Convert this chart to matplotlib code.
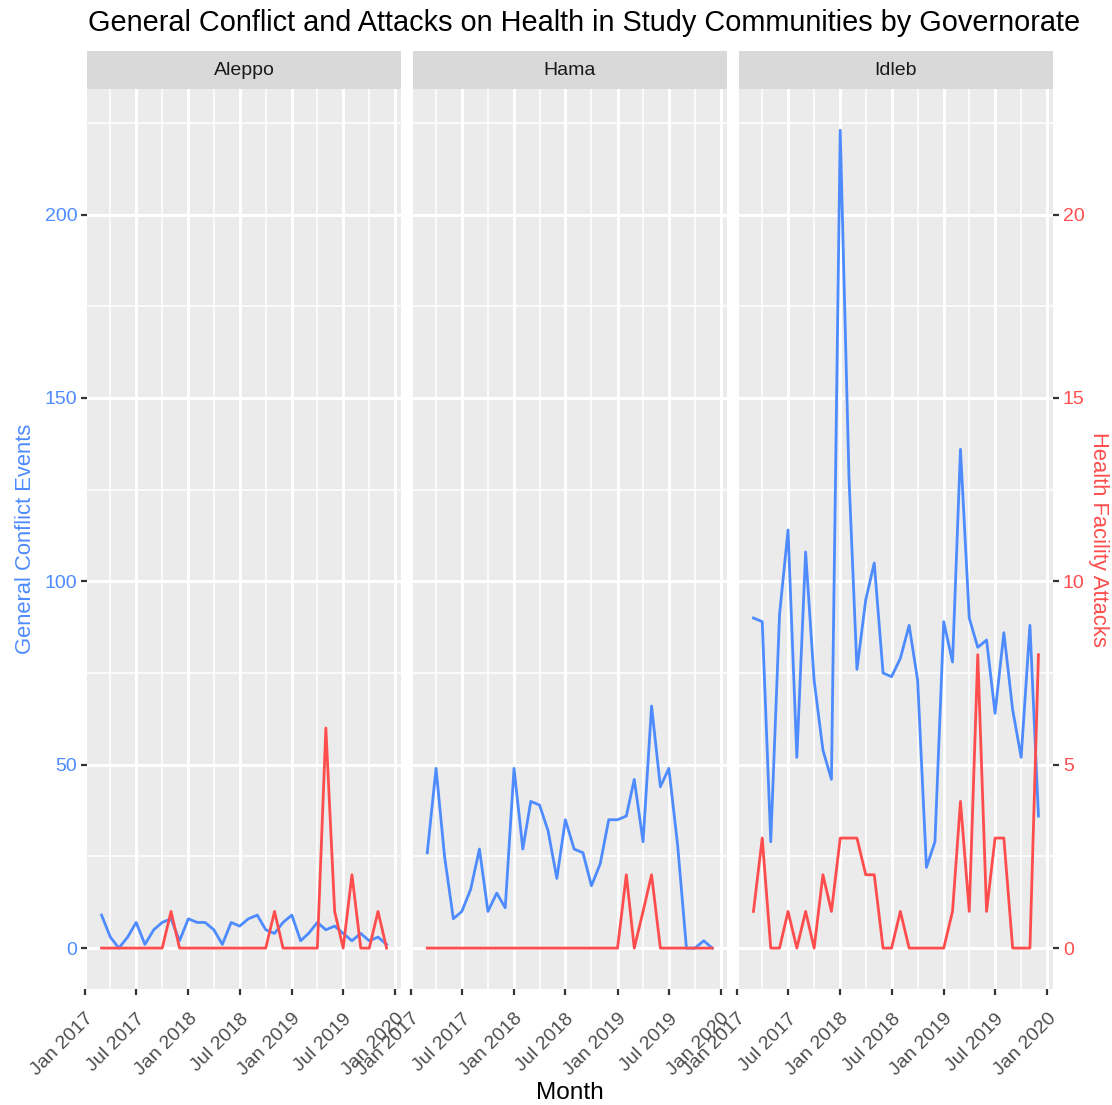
"""
General conflict events vs. attacks on health facilities, one facet per
governorate (Aleppo, Hama, Idleb), monthly Mar 2017 - Dec 2019.

Health facility attacks share the panel with conflict events, scaled x10,
and are read off the secondary (right) axis.

Run:
    python plot.py      # -> out.png
"""
import matplotlib
matplotlib.use("Agg")
import matplotlib.dates as mdates
import matplotlib.pyplot as plt
import matplotlib.transforms as mtransforms
import pandas as pd
from matplotlib.ticker import FixedLocator, MultipleLocator

plt.rcParams["font.family"] = ["Liberation Sans", "DejaVu Sans"]

MONTHS = pd.date_range("2017-03-01", "2019-12-01", freq="MS")
GOVERNORATES = ["Aleppo", "Hama", "Idleb"]

ALEPPO_CONFLICT = [9, 3, 0, 3, 7, 1, 5, 7, 8, 2, 8, 7, 7, 5, 1, 7, 6,
                   8, 9, 5, 4, 7, 9, 2, 4, 7, 5, 6, 4, 2, 4, 2, 3, 1]
HAMA_CONFLICT = [26, 49, 25, 8, 10, 16, 27, 10, 15, 11, 49, 27, 40, 39, 32, 19, 35,
                 27, 26, 17, 23, 35, 35, 36, 46, 29, 66, 44, 49, 28, 0, 0, 2, 0]
IDLEB_CONFLICT = [90, 89, 29, 91, 114, 52, 108, 73, 54, 46, 223, 128, 76, 95, 105, 75, 74,
                  79, 88, 73, 22, 29, 89, 78, 136, 90, 82, 84, 64, 86, 65, 52, 88, 36]

ALEPPO_ATTACKS = [0, 0, 0, 0, 0, 0, 0, 0, 1, 0, 0, 0, 0, 0, 0, 0, 0,
                  0, 0, 0, 1, 0, 0, 0, 0, 0, 6, 1, 0, 2, 0, 0, 1, 0]
HAMA_ATTACKS = [0, 0, 0, 0, 0, 0, 0, 0, 0, 0, 0, 0, 0, 0, 0, 0, 0,
                0, 0, 0, 0, 0, 0, 2, 0, 1, 2, 0, 0, 0, 0, 0, 0, 0]
IDLEB_ATTACKS = [1, 3, 0, 0, 1, 0, 1, 0, 2, 1, 3, 3, 3, 2, 2, 0, 0,
                 1, 0, 0, 0, 0, 0, 1, 4, 1, 8, 1, 3, 3, 0, 0, 0, 8]

CONFLICT = [ALEPPO_CONFLICT, HAMA_CONFLICT, IDLEB_CONFLICT]
ATTACKS = [ALEPPO_ATTACKS, HAMA_ATTACKS, IDLEB_ATTACKS]

CONFLICT_TICKS = [0, 50, 100, 150, 200]
HEALTH_TICKS = [0, 5, 10, 15, 20]
HEALTH_SCALE = 10

TITLE = "General Conflict and Attacks on Health in Study Communities by Governorate"

BLUE = "#4D8BFF"
RED = "#FF4D4D"
PANEL_BG = "#EBEBEB"
STRIP_BG = "#D9D9D9"

# layout in pixels of the 1112x1105 output
W, H = 1112, 1105
PANEL_LEFT = [87.3, 413.0, 739.2]
PANEL_W = 313.5
PANEL_TOP, PANEL_BOTTOM = 89.3, 989.0
STRIP_TOP = 51.0

TICK_LEN, TICK_PAD = 4.3, 11.0
TICK_FS = 14


def _box(left, top, width, height):
    return [left / W, 1 - (top + height) / H, width / W, height / H]


def _style_panel(ax):
    ax.set_facecolor(PANEL_BG)
    for s in ax.spines.values():
        s.set_visible(False)
    ax.xaxis.set_major_locator(mdates.MonthLocator(bymonth=[1, 7]))
    ax.xaxis.set_minor_locator(mdates.MonthLocator(bymonth=[4, 10]))
    ax.xaxis.set_major_formatter(mdates.DateFormatter("%b %Y"))
    ax.yaxis.set_major_locator(FixedLocator(CONFLICT_TICKS))
    ax.yaxis.set_minor_locator(MultipleLocator(25))
    ax.grid(True, which="major", color="white", lw=2.2)
    ax.grid(True, which="minor", color="white", lw=1.1)
    ax.set_axisbelow(True)
    ax.tick_params(which="major", length=TICK_LEN, width=1.6, color="#333333",
                   labelsize=TICK_FS, pad=TICK_PAD)
    ax.tick_params(which="minor", length=0)
    ax.tick_params(axis="y", pad=3)
    for lab in ax.get_xticklabels():
        lab.set(rotation=45, ha="right", va="top", rotation_mode="anchor",
                color="#4D4D4D")


def _jan2017_tick(ax):
    """ggplot still draws the Jan 2017 break just left of the expanded range."""
    x0 = mdates.date2num(pd.Timestamp("2017-01-01"))
    trans = mtransforms.blended_transform_factory(ax.transData, ax.transAxes)
    ax.plot([x0, x0], [0, -TICK_LEN / 72 * 100 / (PANEL_BOTTOM - PANEL_TOP)],
            transform=trans, clip_on=False, color="#333333", lw=1.6,
            solid_capstyle="butt")
    lab_off = mtransforms.offset_copy(trans, fig=ax.figure,
                                      y=-(TICK_LEN + TICK_PAD), units="points")
    ax.text(x0, 0, "Jan 2017", transform=lab_off, rotation=45, ha="right",
            va="top", rotation_mode="anchor", fontsize=TICK_FS,
            color="#4D4D4D", clip_on=False)


def main():
    fig = plt.figure(figsize=(W / 100, H / 100), dpi=100)

    ymax = max(max(c) for c in CONFLICT)
    ypad = 0.05 * ymax
    xpad = (MONTHS[-1] - MONTHS[0]) * 0.05

    for i, name in enumerate(GOVERNORATES):
        ax = fig.add_axes(_box(PANEL_LEFT[i], PANEL_TOP, PANEL_W,
                               PANEL_BOTTOM - PANEL_TOP))
        ax.plot(MONTHS, CONFLICT[i], color=BLUE, lw=2.0)
        ax.plot(MONTHS, [a * HEALTH_SCALE for a in ATTACKS[i]], color=RED, lw=2.0)
        ax.set_xlim(MONTHS[0] - xpad, MONTHS[-1] + xpad)
        ax.set_ylim(-ypad, ymax + ypad)
        _style_panel(ax)
        _jan2017_tick(ax)

        if i == 0:
            for lab in ax.get_yticklabels():
                lab.set_color(BLUE)
        else:
            ax.tick_params(axis="y", which="both", left=False, labelleft=False)

        if i == len(GOVERNORATES) - 1:
            sec = ax.secondary_yaxis("right", functions=(lambda v: v / HEALTH_SCALE,
                                                         lambda v: v * HEALTH_SCALE))
            sec.set_yticks(HEALTH_TICKS)
            for s in sec.spines.values():
                s.set_visible(False)
            sec.tick_params(length=TICK_LEN, width=1.6, color="#333333",
                            labelsize=TICK_FS, labelcolor=RED, pad=3)

        strip = fig.add_axes(_box(PANEL_LEFT[i], STRIP_TOP, PANEL_W,
                                  PANEL_TOP - STRIP_TOP))
        strip.set_facecolor(STRIP_BG)
        strip.set_xticks([]); strip.set_yticks([])
        for s in strip.spines.values():
            s.set_visible(False)
        strip.text(0.5, 0.5, name, ha="center", va="center", fontsize=TICK_FS,
                   color="#1A1A1A", transform=strip.transAxes)

    fig.text(88 / W, 1 - 23 / H, TITLE, ha="left", va="center", fontsize=20.8)
    fig.text(570 / W, 1 - 1093 / H, "Month", ha="center", va="center", fontsize=17.6)
    fig.text(26 / W, 1 - 539 / H, "General Conflict Events", rotation=90,
             ha="center", va="center", fontsize=15.8, color=BLUE)
    fig.text(1098 / W, 1 - 539 / H, "Health Facility Attacks", rotation=270,
             ha="center", va="center", fontsize=15.8, color=RED)

    fig.savefig("out.png", dpi=100)
    plt.close(fig)


if __name__ == "__main__":
    main()
